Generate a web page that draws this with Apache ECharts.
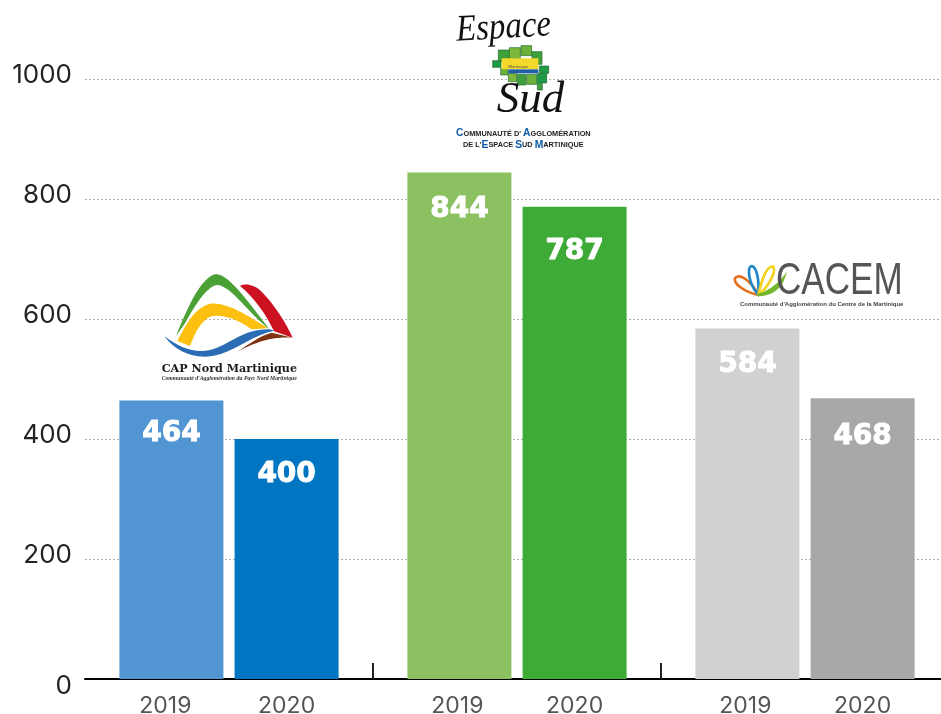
<!DOCTYPE html>
<html>
<head>
<meta charset="utf-8">
<style>
  html, body { margin: 0; padding: 0; background: #fff; }
  #chart { width: 941px; height: 714px; }
</style>
</head>
<body>
<div id="chart"></div>
<script src="https://cdn.jsdelivr.net/npm/echarts@6/dist/echarts.min.js"></script>
<script>
const years = ["2019", "2020"];
const values2019 = [464, 844, 584];
const values2020 = [400, 787, 468];
const colors2019 = ["#5195d3", "#8cc162", "#d1d1d1"];
const colors2020 = ["#0075c2", "#3dab35", "#a8a8a6"];
const yTicks = [0, 200, 400, 600, 800, 1000];
// how far below the bar top each number sits (px)
const labelDrop2019 = [14, 18, 17];
const labelDrop2020 = [17, 26, 20];

// every group is 5 slots wide, the bars use slots 1 and 3
const xLabels = [];
const barData = [];
values2019.forEach(function (v, i) {
  // first year label sits a little left of its bar in the original
  xLabels.push("", { value: years[0], textStyle: { padding: [0, i === 0 ? 12 : 4, 0, 0] } }, "", years[1], "");
  barData.push(
    null,
    { value: v, itemStyle: { color: colors2019[i] }, label: { offset: [0, labelDrop2019[i]] } },
    null,
    { value: values2020[i], itemStyle: { color: colors2020[i] }, label: { offset: [0, labelDrop2020[i]] } },
    null
  );
});

// logos are traced at 3x and scaled back down
function logo(x, y, children) {
  return { type: "group", x: x, y: y, scaleX: 1 / 3, scaleY: 1 / 3, children: children };
}
function fillPath(d, color) {
  return { type: "path", shape: { pathData: d }, style: { fill: color } };
}
function linePath(d, color, w) {
  return { type: "path", shape: { pathData: d }, style: { fill: "none", stroke: color, lineWidth: w, lineCap: "round" } };
}
function tile(x, y, w, h, color) {
  return { type: "rect", shape: { x: x, y: y, width: w, height: h }, style: { fill: color, stroke: "#1d6b2f", lineWidth: 2 } };
}
function label(x, y, text, font, color) {
  return {
    type: "text",
    x: x,
    y: y,
    style: { text: text, font: font, fill: color, align: "left", verticalAlign: "bottom" },
  };
}

const capLogo = logo(130, 260, [
  fillPath("M138 228 C170 150 210 55 255 43 C290 38 340 105 418 207 C350 155 310 85 265 75 C238 72 200 125 165 190 Z", "#4ba135"),
  fillPath("M330 78 C345 70 370 72 395 95 C430 130 470 190 488 233 L432 214 C410 165 370 110 330 78 Z", "#cc1221"),
  fillPath("M142 243 C165 200 190 145 240 131 C290 125 350 165 415 205 L365 208 C320 175 270 160 240 170 C210 185 195 220 180 258 Z", "#fdc010"),
  fillPath("M103 229 C150 265 195 280 240 270 C300 255 340 205 420 208 L432 212 C370 225 325 265 270 283 C205 303 140 280 103 229 Z", "#2a6db5"),
  fillPath("M322 275 C360 250 395 225 425 218 L488 233 C440 232 400 235 322 275 Z", "#7f3313"),
  label(95, 345, "CAP Nord Martinique", "bold 33.5px 'DejaVu Serif'", "#1a1a1a"),
  label(95, 364, "Communauté d'Agglomération du Pays Nord Martinique", "italic bold 17.2px 'Liberation Serif'", "#333"),
]);

const espaceText = label(52, 134, "Espace", "italic 112px 'Liberation Serif'", "#111");
espaceText.scaleX = 0.88;
espaceText.rotation = 0.06;
const sudLogo = logo(440, 5, [
  espaceText,
  tile(175, 135, 35, 35, "#3f9f3a"),
  tile(208, 128, 33, 33, "#7cb93a"),
  tile(243, 122, 32, 30, "#6cb13a"),
  tile(276, 140, 30, 38, "#3f9f3a"),
  tile(158, 167, 25, 20, "#1f9a46"),
  tile(182, 190, 22, 20, "#6cb13a"),
  tile(298, 183, 28, 22, "#1f9a46"),
  tile(205, 205, 25, 25, "#7cb93a"),
  tile(232, 208, 25, 32, "#3f9f3a"),
  tile(260, 208, 30, 30, "#6cb13a"),
  tile(292, 206, 28, 28, "#1f9a46"),
  tile(292, 235, 15, 20, "#3f9f3a"),
  { type: "rect", shape: { x: 185, y: 160, width: 110, height: 33 }, style: { fill: "#f4d92c" } },
  { type: "rect", shape: { x: 205, y: 193, width: 90, height: 12 }, style: { fill: "#1f5fa8" } },
  label(205, 192, "Martinique", "italic 13px 'Liberation Serif'", "#444"),
  label(170, 352, "Sud", "italic 135px 'Liberation Serif'", "#111"),
  {
    type: "text",
    x: 250,
    y: 438,
    style: {
      text: "{b|C}OMMUNAUTÉ D' {b|A}GGLOMÉRATION\nDE L'{b|E}SPACE {b|S}UD {b|M}ARTINIQUE",
      font: "bold 22px 'Liberation Sans'",
      fill: "#222",
      lineHeight: 35,
      align: "center",
      verticalAlign: "bottom",
      rich: {
        b: { font: "bold 31px 'Liberation Sans'", fill: "#0d5aa7", lineHeight: 35 },
      },
    },
  },
]);

const cacemText = label(168, 162, "CACEM", "135px 'Liberation Sans'", "#555");
cacemText.scaleX = 0.78;
const cacemLogo = logo(720, 250, [
  linePath("M115 135 C70 125 40 100 45 85 C55 70 90 85 115 135", "#e8701a", 8),
  linePath("M115 135 C85 100 80 50 95 48 C110 50 118 90 115 135", "#1f86c8", 8),
  linePath("M115 135 C125 90 140 45 160 50 C170 70 140 115 115 135", "#f2d21f", 8),
  linePath("M115 135 C150 135 180 115 190 85 C170 110 140 130 115 135", "#74b72e", 8),
  cacemText,
  label(60, 171, "Communauté d'Agglomération du Centre de la Martinique", "bold 17.9px 'Liberation Sans'", "#444"),
]);

const chart = echarts.init(document.getElementById("chart"));
chart.setOption({
  animation: false,
  backgroundColor: "#fff",
  // the last group runs past the right edge of the page
  grid: { left: 85, top: 79, width: 864, height: 600, containLabel: false, outerBoundsMode: "none" },
  xAxis: {
    type: "category",
    data: xLabels,
    axisLine: { lineStyle: { color: "#000", width: 2 } },
    axisTick: {
      show: true,
      inside: true,
      length: 16,
      lineStyle: { color: "#222", width: 2 },
      // only the borders between the three groups
      interval: function (index) {
        return index === 5 || index === 10;
      },
    },
    axisLabel: {
      interval: 0,
      margin: 16,
      color: "#555",
      fontFamily: "Inter",
      fontSize: 23,
    },
  },
  yAxis: {
    type: "value",
    min: yTicks[0],
    max: yTicks[yTicks.length - 1],
    interval: yTicks[1],
    axisLine: { show: false },
    axisTick: { show: false },
    splitLine: { lineStyle: { color: "#b0b0b0", width: 1, type: [2, 2] } },
    axisLabel: {
      margin: 13,
      formatter: function (v) {
        return v === 0 ? "{zero|0}" : "{tick|" + v + "}";
      },
      rich: {
        tick: { color: "#222", fontFamily: "Inter", fontSize: 26, padding: [0, 0, 7, 0] },
        zero: { color: "#222", fontFamily: "Inter", fontSize: 26, padding: [15, 0, 0, 0] },
      },
    },
  },
  series: [
    {
      type: "bar",
      data: barData,
      barWidth: 104,
      label: {
        show: true,
        position: "insideTop",
        distance: 5,
        color: "#fff",
        fontFamily: "DejaVu Sans",
        fontWeight: "bold",
        fontSize: 28,
        textBorderColor: "#fff",
        textBorderWidth: 1,
      },
    },
    {
      // the three logos
      type: "custom",
      coordinateSystem: "none",
      silent: true,
      z: 10,
      data: [0],
      renderItem: function () {
        return { type: "group", children: [capLogo, sudLogo, cacemLogo] };
      },
    },
  ],
});
</script>
</body>
</html>
